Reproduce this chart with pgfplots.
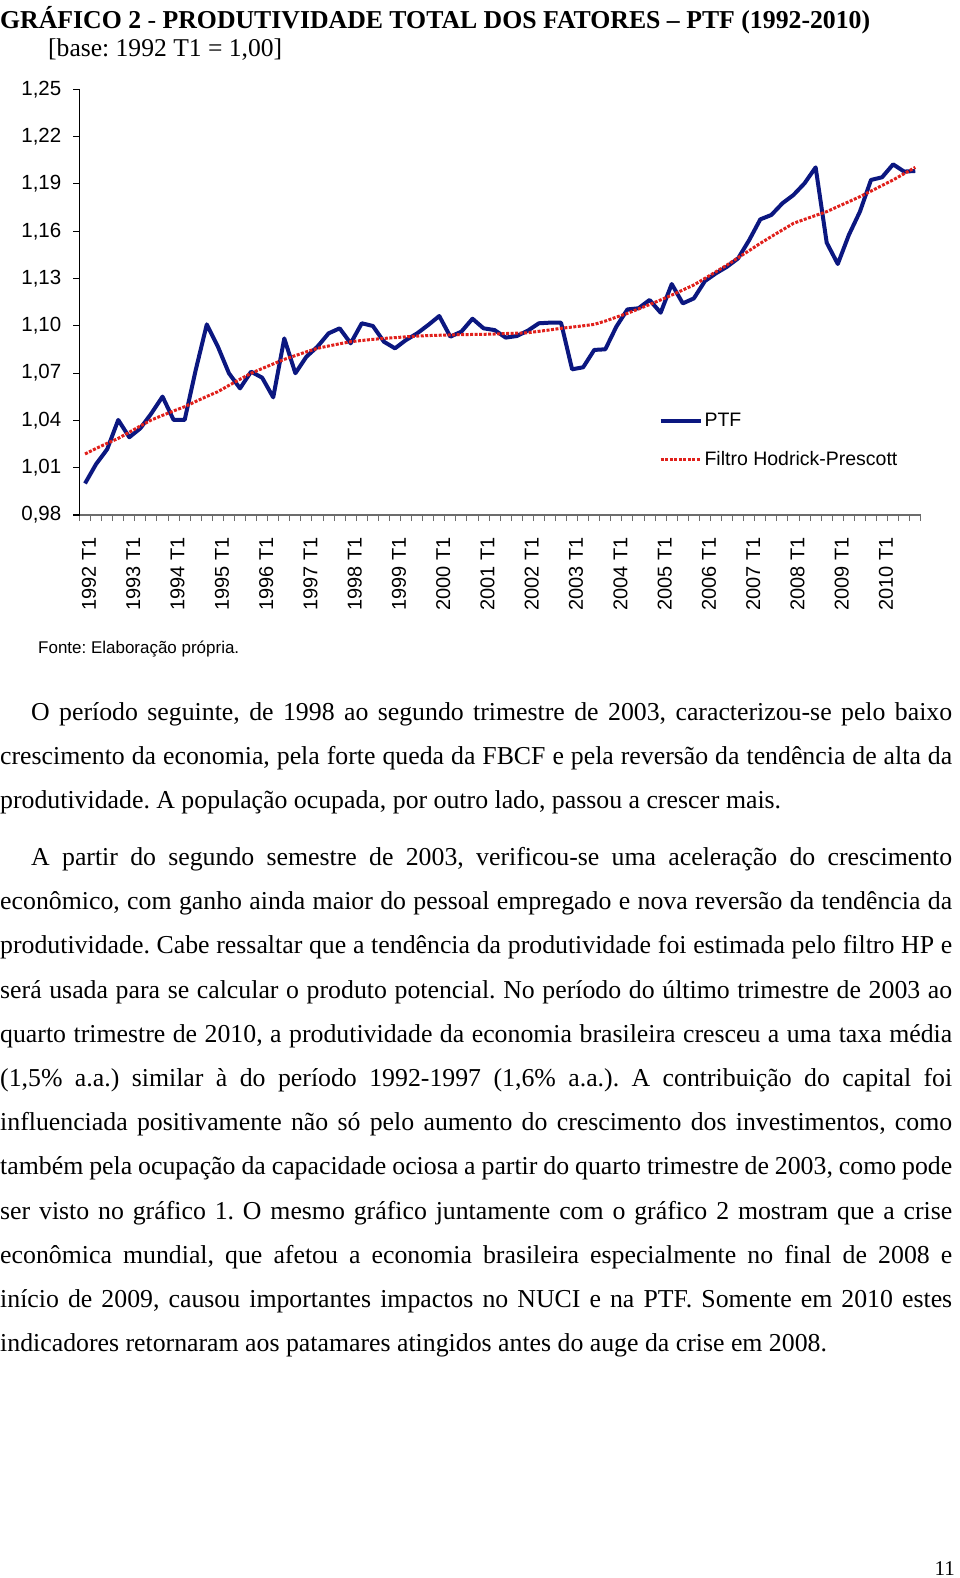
\documentclass[border=0pt]{standalone}
\usepackage{pgfplots}
\pgfplotsset{compat=1.18}
\usepackage{pgfplotstable}
\usepackage{fontspec}
\setmainfont{Liberation Serif}
\newfontfamily\arial{Liberation Sans}
\definecolor{ptfblue}{HTML}{0B1780}
\definecolor{hpred}{HTML}{E0201B}
\frenchspacing
\pgfplotstableread{
i v
0 1.0000
1 1.0123
2 1.0217
3 1.0403
4 1.0293
5 1.0350
6 1.0445
7 1.0551
8 1.0403
9 1.0403
10 1.0720
11 1.1009
12 1.0868
13 1.0699
14 1.0603
15 1.0709
16 1.0671
17 1.0546
18 1.0920
19 1.0699
20 1.0804
21 1.0868
22 1.0952
23 1.0984
24 1.0889
25 1.1016
26 1.0999
27 1.0899
28 1.0857
29 1.0910
30 1.0952
31 1.1005
32 1.1062
33 1.0931
34 1.0963
35 1.1045
36 1.0984
37 1.0973
38 1.0925
39 1.0935
40 1.0969
41 1.1016
42 1.1020
43 1.1020
44 1.0724
45 1.0737
46 1.0847
47 1.0851
48 1.0995
49 1.1104
50 1.1111
51 1.1164
52 1.1083
53 1.1265
54 1.1142
55 1.1174
56 1.1284
57 1.1333
58 1.1375
59 1.1428
60 1.1544
61 1.1675
62 1.1703
63 1.1777
64 1.1830
65 1.1904
66 1.2005
67 1.1527
68 1.1392
69 1.1576
70 1.1724
71 1.1925
72 1.1942
73 1.2024
74 1.1978
75 1.1982
}\ptf
\pgfplotstableread{
i v
0 1.0187
1 1.0222
2 1.0255
3 1.0286
4 1.0325
5 1.0365
6 1.0403
7 1.0432
8 1.0460
9 1.0487
10 1.0520
11 1.0552
12 1.0582
13 1.0622
14 1.0661
15 1.0699
16 1.0729
17 1.0758
18 1.0787
19 1.0811
20 1.0835
21 1.0857
22 1.0872
23 1.0886
24 1.0899
25 1.0907
26 1.0914
27 1.0920
28 1.0925
29 1.0930
30 1.0935
31 1.0938
32 1.0940
33 1.0942
34 1.0944
35 1.0945
36 1.0946
37 1.0948
38 1.0951
39 1.0953
40 1.0956
41 1.0965
42 1.0974
43 1.0984
44 1.0992
45 1.1000
46 1.1009
47 1.1030
48 1.1055
49 1.1079
50 1.1107
51 1.1135
52 1.1164
53 1.1195
54 1.1227
55 1.1259
56 1.1301
57 1.1343
58 1.1386
59 1.1432
60 1.1477
61 1.1523
62 1.1566
63 1.1608
64 1.1650
65 1.1675
66 1.1700
67 1.1724
68 1.1756
69 1.1787
70 1.1819
71 1.1854
72 1.1890
73 1.1925
74 1.1965
75 1.2005
}\hp
\begin{document}
\begin{tikzpicture}
\useasboundingbox (0pt,0pt) rectangle (960pt,-1578pt);
% title
\node[anchor=base west, inner sep=0pt] at (0pt,-29pt) {\resizebox{870pt}{!}{\bfseries GRÁFICO 2 \mdseries-\bfseries{} PRODUTIVIDADE TOTAL DOS FATORES – PTF (1992-2010)}};
\node[anchor=base west, inner sep=0pt] at (48pt,-57pt) {\resizebox{234pt}{!}{[base: 1992 T1 = 1,00]}};
\begin{axis}[
  at={(79.5pt,-515pt)}, anchor=south west,
  scale only axis, width=841.3pt, height=425.7pt,
  xmin=-0.5, xmax=75.5, ymin=0.98, ymax=1.25,
  axis x line=bottom, axis y line=left,
  x axis line style={-, draw=gray!85!black, line width=1.5pt},
  y axis line style={-, draw=black, line width=1.5pt},
  tick align=outside,
  ytick={0.98,1.01,1.04,1.07,1.10,1.13,1.16,1.19,1.22,1.25},
  y tick style={draw=black, line width=1.2pt},
  major tick length=6pt,
  yticklabel style={font=\arial\fontsize{20.5}{24}\selectfont, inner sep=0pt, xshift=-12pt},
  /pgf/number format/.cd, use comma, fixed, fixed zerofill, precision=2, assume math mode=true, /pgfplots/.cd,
  xtick={-0.5,0.5,1.5,2.5,3.5,4.5,5.5,6.5,7.5,8.5,9.5,10.5,11.5,12.5,13.5,14.5,15.5,16.5,17.5,18.5,19.5,20.5,21.5,22.5,23.5,24.5,25.5,26.5,27.5,28.5,29.5,30.5,31.5,32.5,33.5,34.5,35.5,36.5,37.5,38.5,39.5,40.5,41.5,42.5,43.5,44.5,45.5,46.5,47.5,48.5,49.5,50.5,51.5,52.5,53.5,54.5,55.5,56.5,57.5,58.5,59.5,60.5,61.5,62.5,63.5,64.5,65.5,66.5,67.5,68.5,69.5,70.5,71.5,72.5,73.5,74.5,75.5},
  xticklabels={},
  x tick style={draw=gray!85!black, line width=1pt},
  extra x ticks={0,4,8,12,16,20,24,28,32,36,40,44,48,52,56,60,64,68,72},
  extra x tick labels={1992 T1,1993 T1,1994 T1,1995 T1,1996 T1,1997 T1,1998 T1,1999 T1,2000 T1,2001 T1,2002 T1,2003 T1,2004 T1,2005 T1,2006 T1,2007 T1,2008 T1,2009 T1,2010 T1},
  extra x tick style={major tick length=0pt, xticklabel style={rotate=90, anchor=east, inner sep=0pt, xshift=-22pt, yshift=-4pt, font=\arial\fontsize{20}{24}\selectfont}},
  legend style={draw=none, fill=none, at={(0.688,0.244)}, anchor=north west, font=\arial\fontsize{19.5}{23}\selectfont, row sep=19pt, inner sep=0pt},
  legend cell align=left,
  legend image code/.code={\draw[#1] (0pt,0pt) -- (40pt,0pt);},
]
\addplot[ptfblue, line width=4pt, line join=round] table[x=i, y=v] {\ptf};
\addlegendentry{PTF}
\addplot[hpred, line width=3pt, dash pattern=on 3pt off 1.5pt] table[x=i, y=v] {\hp};
\addlegendentry{Filtro Hodrick-Prescott}
\end{axis}
\node[anchor=base west, inner sep=0pt] at (38pt,-653pt) {\resizebox{201pt}{!}{\arial Fonte: Elaboração própria.}};
% body text
\begin{scope}[every node/.style={anchor=base west, inner sep=0pt, font=\fontsize{25.8}{30}\selectfont}]
\node at (0pt,-720pt) {\makebox[952pt][s]{\hspace*{31pt}O período seguinte, de 1998 ao segundo trimestre de 2003, caracterizou-se pelo baixo}};
\node at (0pt,-764pt) {\makebox[952pt][s]{crescimento da economia, pela forte queda da FBCF e pela reversão da tendência de alta da}};
\node at (0pt,-808pt) {produtividade. A população ocupada, por outro lado, passou a crescer mais.};
\node at (0pt,-865.5pt) {\makebox[952pt][s]{\hspace*{31pt}A partir do segundo semestre de 2003, verificou-se uma aceleração do crescimento}};
\node at (0pt,-909.7pt) {\makebox[952pt][s]{econômico, com ganho ainda maior do pessoal empregado e nova reversão da tendência da}};
\node at (0pt,-953.9pt) {\makebox[952pt][s]{produtividade. Cabe ressaltar que a tendência da produtividade foi estimada pelo filtro HP e}};
\node at (0pt,-998.1pt) {\makebox[952pt][s]{será usada para se calcular o produto potencial. No período do último trimestre de 2003 ao}};
\node at (0pt,-1042.3pt) {\makebox[952pt][s]{quarto trimestre de 2010, a produtividade da economia brasileira cresceu a uma taxa média}};
\node at (0pt,-1086.5pt) {\makebox[952pt][s]{(1,5\% a.a.) similar à do período 1992-1997 (1,6\% a.a.). A contribuição do capital foi}};
\node at (0pt,-1130.7pt) {\makebox[952pt][s]{influenciada positivamente não só pelo aumento do crescimento dos investimentos, como}};
\node at (0pt,-1174.9pt) {\makebox[952pt][s]{também pela ocupação da capacidade ociosa a partir do quarto trimestre de 2003, como pode}};
\node at (0pt,-1219.1pt) {\makebox[952pt][s]{ser visto no gráfico 1. O mesmo gráfico juntamente com o gráfico 2 mostram que a crise}};
\node at (0pt,-1263.3pt) {\makebox[952pt][s]{econômica mundial, que afetou a economia brasileira especialmente no final de 2008 e}};
\node at (0pt,-1307.5pt) {\makebox[952pt][s]{início de 2009, causou importantes impactos no NUCI e na PTF. Somente em 2010 estes}};
\node at (0pt,-1351.7pt) {indicadores retornaram aos patamares atingidos antes do auge da crise em 2008.};
\end{scope}
\node[anchor=base east, inner sep=0pt, font=\fontsize{21}{25}\selectfont] at (955pt,-1575pt) {11};
\end{tikzpicture}
\end{document}
